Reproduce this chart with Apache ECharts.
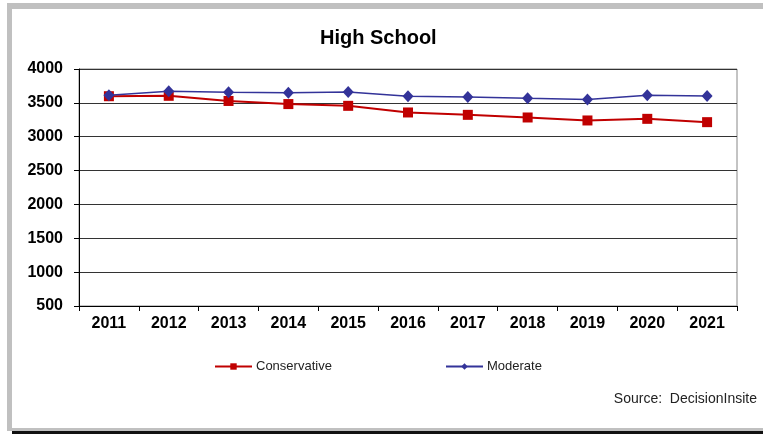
<!DOCTYPE html>
<html>
<head>
<meta charset="utf-8">
<script src="https://cdn.jsdelivr.net/npm/echarts@6/dist/echarts.min.js"></script>
<style>
html,body{margin:0;padding:0;background:#fff;}
#chart{width:763px;height:434px;}
</style>
</head>
<body>
<div id="chart"></div>
<script>
var years = ['2011','2012','2013','2014','2015','2016','2017','2018','2019','2020','2021'];
var conservative = [3598, 3604, 3528, 3482, 3456, 3358, 3323, 3284, 3240, 3264, 3215];
var moderate = [3612, 3672, 3658, 3648, 3662, 3598, 3588, 3568, 3550, 3614, 3602];
var yTicks = {min: 500, max: 4000, interval: 500};

var chart = echarts.init(document.getElementById('chart'), null, {renderer: 'canvas'});
var font = 'Liberation Sans, Arial, sans-serif';
chart.setOption({
  animation: false,
  backgroundColor: '#fff',
  textStyle: {fontFamily: font},
  title: {
    text: 'High School',
    left: 315,
    top: 23,
    textStyle: {fontSize: 20, fontWeight: 'bold', color: '#000', fontFamily: font}
  },
  grid: {
    left: 79, right: 26, top: 69, bottom: 128,
    show: true, borderColor: '#888', borderWidth: 1, backgroundColor: '#fff'
  },
  legend: [
    {
      data: ['Conservative'], left: 214, top: 360, padding: 0, itemWidth: 37, itemHeight: 8, itemGap: 0,
      textStyle: {fontSize: 13, color: '#222', fontFamily: font, padding: [0, 0, 0, -1]}
    },
    {
      data: ['Moderate'], left: 445, top: 360, padding: 0, itemWidth: 37, itemHeight: 8, itemGap: 0,
      textStyle: {fontSize: 13, color: '#222', fontFamily: font, padding: [0, 0, 0, -1]}
    }
  ],
  xAxis: {
    type: 'category',
    data: years,
    boundaryGap: true,
    axisLine: {show: true, lineStyle: {color: '#000', width: 1}},
    axisTick: {show: true, length: 5, alignWithLabel: false, lineStyle: {color: '#000'}},
    axisLabel: {fontSize: 16, fontWeight: 'bold', color: '#000', margin: 10, fontFamily: font},
    splitLine: {show: false}
  },
  yAxis: {
    type: 'value',
    min: yTicks.min, max: yTicks.max, interval: yTicks.interval,
    axisLine: {show: true, lineStyle: {color: '#000', width: 1}},
    axisTick: {show: true, length: 5, lineStyle: {color: '#000'}},
    axisLabel: {fontSize: 16, fontWeight: 'bold', color: '#000', margin: 16, fontFamily: font,
      formatter: function (v) { return String(v); }},
    splitLine: {show: true, lineStyle: {color: '#333', width: 1}}
  },
  series: [
    {
      name: 'Conservative',
      type: 'line',
      data: conservative,
      symbol: 'rect',
      symbolSize: 10,
      color: '#C00000',
      lineStyle: {color: '#C00000', width: 2},
      itemStyle: {color: '#C00000'},
      z: 2
    },
    {
      name: 'Moderate',
      type: 'line',
      data: moderate,
      symbol: 'diamond',
      symbolSize: [11, 12],
      color: '#333399',
      lineStyle: {color: '#333399', width: 1.5},
      itemStyle: {color: '#333399'},
      z: 3
    }
  ],
  graphic: [
    {type: 'rect', shape: {x: 7, y: 3, width: 756, height: 6}, style: {fill: '#c0c0c0'}, silent: true},
    {type: 'rect', shape: {x: 7, y: 3, width: 5, height: 428}, style: {fill: '#c0c0c0'}, silent: true},
    {type: 'rect', shape: {x: 7, y: 428, width: 756, height: 3}, style: {fill: '#c0c0c0'}, silent: true},
    {type: 'rect', shape: {x: 12, y: 431, width: 751, height: 3}, style: {fill: '#111'}, silent: true},
    {
      type: 'text', right: 6, top: 392,
      style: {text: 'Source:  DecisionInsite', fontSize: 14, fill: '#222', fontFamily: font}
    }
  ]
});
</script>
</body>
</html>
